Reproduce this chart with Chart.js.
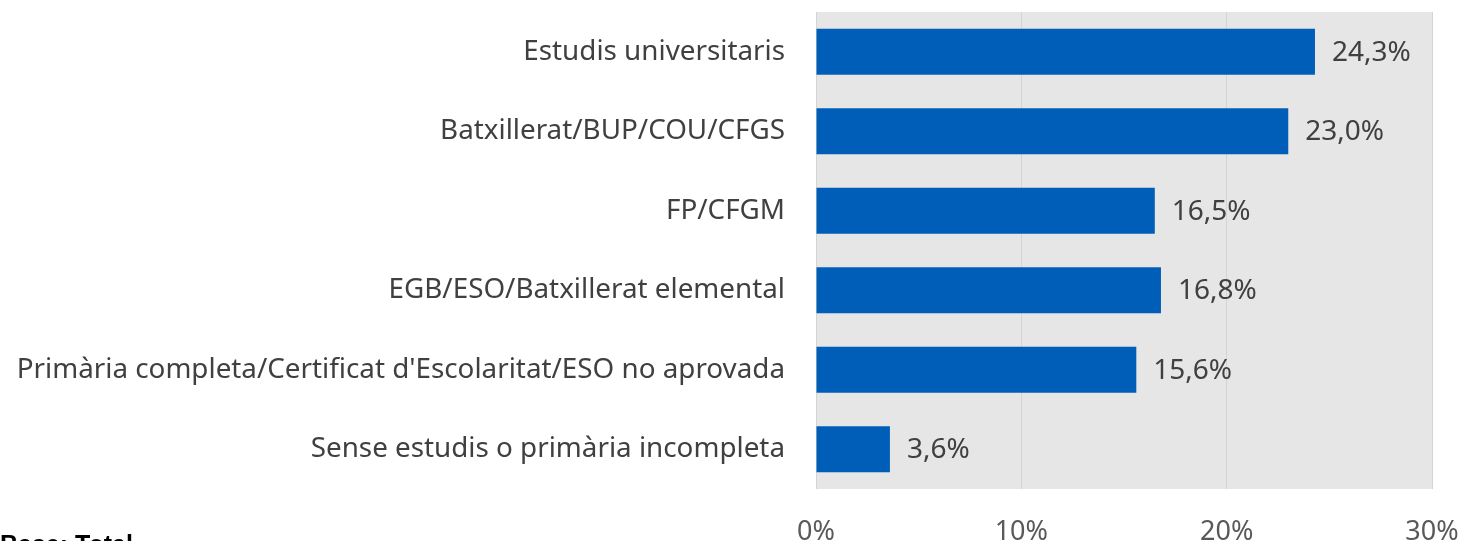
<!DOCTYPE html>
<html>
<head>
<meta charset="utf-8">
<script src="https://cdn.jsdelivr.net/npm/chart.js@4/dist/chart.umd.min.js"></script>
<style>
    html, body { margin: 0; padding: 0; background: #fff; overflow: hidden; }
    #wrap { position: relative; width: 1463px; height: 541px; overflow: hidden; }
    #base { position: absolute; left: 0; top: 530px; font: bold 25px "Liberation Sans", Arial, sans-serif; color: #000; white-space: nowrap; }
</style>
</head>
<body>
<div id="wrap">
    <canvas id="chart" width="1463" height="541"></canvas>
    <div id="base">Base: Total</div>
</div>
<script>
var categories = [
    'Estudis universitaris',
    'Batxillerat/BUP/COU/CFGS',
    'FP/CFGM',
    'EGB/ESO/Batxillerat elemental',
    "Primària completa/Certificat d'Escolaritat/ESO no aprovada",
    'Sense estudis o primària incompleta'
];
var percentages = [24.3, 23.0, 16.5, 16.8, 15.6, 3.6];
var tickValues = [0, 10, 20, 30];

function fmt(v) {
    return v.toFixed(1).replace('.', ',') + '%';
}

function noPadding(scale) {
    scale.paddingTop = 0;
    scale.paddingBottom = 0;
    scale.paddingLeft = 0;
    scale.paddingRight = 0;
}

// gray plot background
var plotBg = {
    id: 'plotBg',
    beforeDraw: function(chart) {
        var a = chart.chartArea;
        var ctx = chart.ctx;
        ctx.save();
        ctx.fillStyle = '#e6e6e6';
        ctx.fillRect(a.left, a.top, a.right - a.left, a.bottom - a.top);
        ctx.restore();
    }
};

// value labels at bar ends
var valueLabels = {
    id: 'valueLabels',
    afterDatasetsDraw: function(chart) {
        var ctx = chart.ctx;
        var meta = chart.getDatasetMeta(0);
        ctx.save();
        ctx.font = '28px "Noto Sans"';
        ctx.fillStyle = '#404040';
        ctx.textAlign = 'left';
        ctx.textBaseline = 'middle';
        meta.data.forEach(function(bar, i) {
            ctx.fillText(fmt(percentages[i]), bar.x + 17, bar.y + 1);
        });
        ctx.restore();
    }
};

var ctx = document.getElementById('chart').getContext('2d');
new Chart(ctx, {
    type: 'bar',
    data: {
        labels: categories,
        datasets: [{
            data: percentages,
            backgroundColor: '#005EB8',
            borderWidth: 0,
            barPercentage: 0.58,
            categoryPercentage: 1
        }]
    },
    options: {
        indexAxis: 'y',
        responsive: false,
        animation: false,
        layout: { padding: { top: 12, right: 31, bottom: 0, left: 0 } },
        plugins: {
            legend: { display: false },
            tooltip: { enabled: false }
        },
        scales: {
            x: {
                min: 0,
                max: 30,
                afterBuildTicks: function(scale) {
                    scale.ticks = tickValues.map(function(v) { return { value: v }; });
                },
                afterFit: function(scale) {
                    scale.height = 52;
                    noPadding(scale);
                },
                grid: { color: '#d4d4d4', drawTicks: false, lineWidth: 1 },
                border: { display: false },
                ticks: {
                    padding: 27,
                    color: '#595959',
                    font: { family: 'Noto Sans', size: 27 },
                    callback: function(v) { return v + '%'; }
                }
            },
            y: {
                afterFit: function(scale) {
                    scale.width = 816;
                    noPadding(scale);
                },
                grid: { display: false, drawTicks: false },
                border: { display: false },
                ticks: {
                    padding: 31,
                    color: '#404040',
                    font: { family: 'Noto Sans', size: 27.8 }
                }
            }
        }
    },
    plugins: [plotBg, valueLabels]
});
</script>
</body>
</html>
